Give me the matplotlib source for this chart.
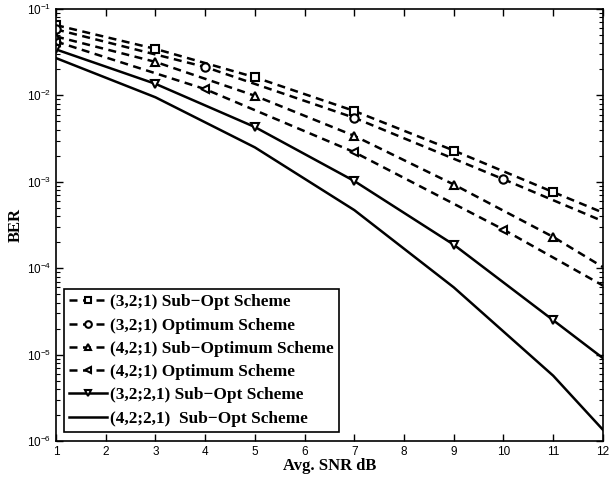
import matplotlib.pyplot as plt
import numpy as np

# (3,2;1) Sub-Opt
x_sq = [1, 3, 5, 7, 9, 11, 12]
y_sq = [0.065, 0.0345, 0.0162, 0.0066, 0.0023, 0.00076, 0.00044]
# (3,2;1) Optimum
x_ci = [1, 4, 7, 10, 12]
y_ci = [0.058, 0.0213, 0.0055, 0.00107, 0.00035]
# (4,2;1) Sub-Optimum
x_tr = [1, 3, 5, 7, 9, 11, 12]
y_tr = [0.048, 0.0244, 0.0099, 0.0034, 0.00093, 0.00023, 0.000103]
# (4,2;1) Optimum
x_lt = [1, 4, 7, 10, 12]
y_lt = [0.042, 0.0118, 0.0022, 0.00028, 0.000063]
# (3,2;2,1) Sub-Opt
x_dt = [1, 3, 5, 7, 9, 11, 12]
y_dt = [0.034, 0.0136, 0.0043, 0.00102, 0.000187, 0.000025, 0.0000091]
# (4,2;2,1) Sub-Opt
x_s6 = [1, 3, 5, 7, 9, 11, 12]
y_s6 = [0.027, 0.0095, 0.0025, 0.00047, 0.00006, 0.0000057, 0.00000135]

labels = ["(3,2;1) Sub\u2212Opt Scheme",
          "(3,2;1) Optimum Scheme",
          "(4,2;1) Sub\u2212Optimum Scheme",
          "(4,2;1) Optimum Scheme",
          "(3,2;2,1) Sub\u2212Opt Scheme",
          "(4,2;2,1)  Sub\u2212Opt Scheme"]

plt.rcParams['font.family'] = ['Liberation Sans', 'DejaVu Sans']
plt.rcParams['mathtext.fontset'] = 'custom'
plt.rcParams['mathtext.rm'] = 'Liberation Sans'
plt.rcParams['mathtext.it'] = 'Liberation Sans'

fig = plt.figure(figsize=(6.09, 4.79), dpi=100)
ax = fig.add_axes([0.092, 0.0793, 0.898, 0.902])

dash = (0, (3.2, 2.2))
mk = dict(markerfacecolor='white', markeredgecolor='black', markersize=6, markeredgewidth=1.5)
lw = 1.8

ax.semilogy(x_sq, y_sq, color='black', ls=dash, lw=lw, marker='s', label=labels[0], **mk)
ax.semilogy(x_ci, y_ci, color='black', ls=dash, lw=lw, marker='o', label=labels[1], **mk)
ax.semilogy(x_tr, y_tr, color='black', ls=dash, lw=lw, marker='^', label=labels[2], **mk)
ax.semilogy(x_lt, y_lt, color='black', ls=dash, lw=lw, marker='<', label=labels[3], **mk)
ax.semilogy(x_dt, y_dt, color='black', ls='-', lw=lw, marker='v', label=labels[4], **mk)
ax.semilogy(x_s6, y_s6, color='black', ls='-', lw=lw, label=labels[5])

# no marker on the last point (12)
for line in ax.get_lines()[:5]:
    n = len(line.get_xdata())
    line.set_markevery(list(range(n - 1)))

ax.set_xlim(1, 12)
ax.set_ylim(1e-6, 1e-1)
ax.set_xticks(range(1, 13))
ax.tick_params(which='both', direction='in', top=True, right=True, labelsize=8.5)
ax.tick_params(which='major', length=5, width=1)
ax.tick_params(which='minor', length=3, width=0.8)
for s in ax.spines.values():
    s.set_linewidth(1.2)

ax.set_xlabel("Avg. SNR dB", family='Liberation Serif', fontweight='bold', fontsize=12, labelpad=0)
ax.set_ylabel("BER", family='Liberation Serif', fontweight='bold', fontsize=12, labelpad=2)

leg = ax.legend(loc='lower left', bbox_to_anchor=(0.0146, 0.021), handlelength=2.2,
                prop={'family': 'Liberation Serif', 'weight': 'bold', 'size': 12.4},
                fancybox=False, framealpha=1, edgecolor='black', markerscale=0.8,
                borderpad=0.3, labelspacing=0.42, handletextpad=0.15, borderaxespad=0)
leg.get_frame().set_linewidth(1.2)

fig.savefig("out.png", dpi=100)
